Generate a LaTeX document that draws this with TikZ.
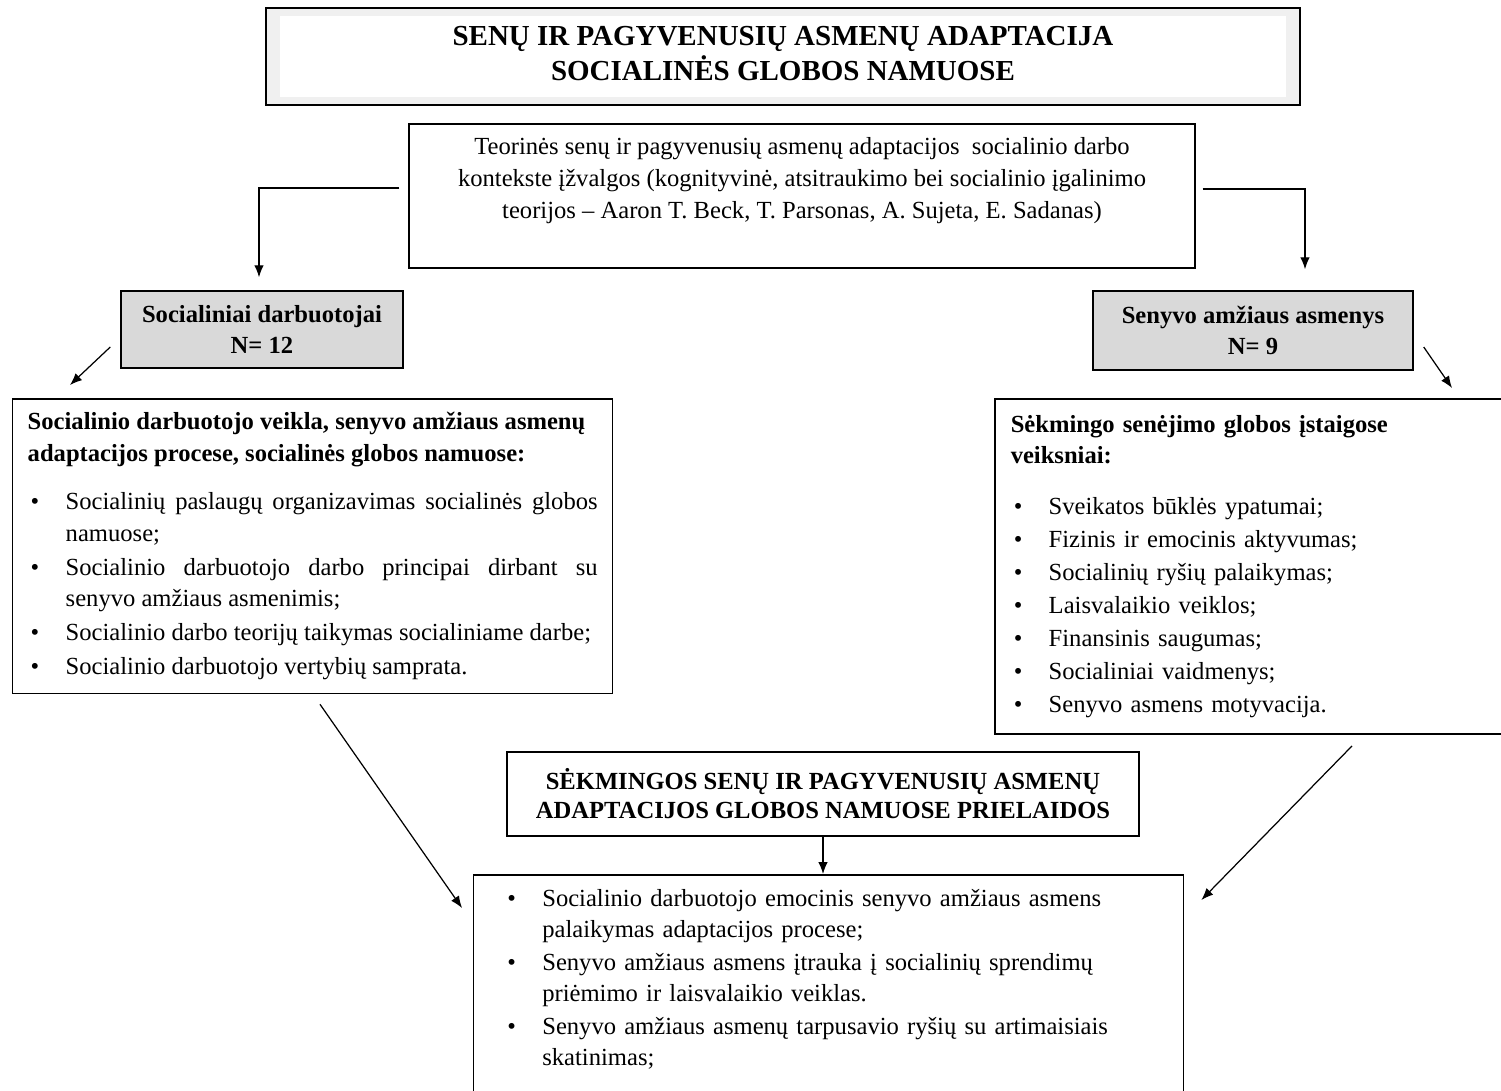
\documentclass[tikz,border=0pt]{standalone}
\usepackage{fontspec}
\setmainfont{Liberation Serif}[BoldFont={Liberation Serif Bold}]
\usetikzlibrary{calc,arrows.meta}
% bullet item with hanging indent
\newcommand{\bulmark}{\noindent\hangindent=0.76cm\hangafter=1\makebox[0.76cm][l]{\hspace{0.06cm}\textbullet}}
\newcommand{\bul}{\par\bulmark}
\tikzset{
  box/.style={draw, line width=0.85pt},
  grey/.style={box, fill=gray!30, align=center, font=\fontsize{14}{17.6}\selectfont\bfseries},
  lst/.style={box, anchor=north west, inner xsep=0.3cm, inner ysep=0.3cm, font=\fontsize{14}{17.9}\selectfont},
  arr/.style={->, >={Latex[length=0.24cm,width=0.19cm]}, line width=0.7pt}
}
\begin{document}
\begin{tikzpicture}[x=0.02cm, y=-0.02cm]
\useasboundingbox (0,0) rectangle (1501,1090);
% title
\node[box, fill=gray!12, minimum width=20.68cm, minimum height=1.94cm] (ttl) at (783,56.5) {};
\node[fill=white, minimum width=20.14cm, minimum height=1.62cm] (ttlin) at (ttl) {};
\node[align=center, font=\fontsize{16.5}{19.9}\selectfont\bfseries] (ttltxt) at (783,53.5) {SENŲ IR PAGYVENUSIŲ ASMENŲ ADAPTACIJA\\SOCIALINĖS GLOBOS NAMUOSE};
% theory
\node[box, minimum width=15.72cm, minimum height=2.88cm] (teor) at (802,196) {};
\node[anchor=north, inner sep=0pt, align=center, font=\fontsize{14}{18.3}\selectfont] (teortxt) at (802,137) {Teorinės senų ir pagyvenusių asmenų adaptacijos \ socialinio darbo\\kontekste įžvalgos (kognityvinė, atsitraukimo bei socialinio įgalinimo\\teorijos – Aaron T. Beck, T. Parsonas, A. Sujeta, E. Sadanas)};
% groups
\node[grey, minimum width=5.64cm, minimum height=1.54cm] (sd) at (262,329.5) {Socialiniai darbuotojai\\N= 12};
\node[grey, minimum width=6.4cm, minimum height=1.58cm] (sa) at (1253,330.5) {Senyvo amžiaus asmenys\\N= 9};
% lists
\node[lst, text width=11.4cm, align=justify, inner ysep=0.27cm] (sdv) at (12,398) {\textbf{Socialinio darbuotojo veikla, senyvo amžiaus asmenų\\adaptacijos procese, socialinės globos namuose:}\setlength{\parskip}{0.05cm}\par\vspace{0.3cm}%
\bul Socialinių paslaugų organizavimas socialinės globos\linebreak namuose;
\bul Socialinio darbuotojo darbo principai dirbant su\linebreak senyvo amžiaus asmenimis;
\bul Socialinio darbo teorijų taikymas socialiniame darbe;
\bul Socialinio darbuotojo vertybių samprata.\par};
\node[lst, text width=9.6cm, inner xsep=0.32cm, inner ysep=0.33cm, align=left] (svk) at (994,398) {\textbf{Sėkmingo senėjimo globos įstaigose\\veiksniai:}\setlength{\parskip}{0.03cm}\par\vspace{0.36cm}%
\bul Sveikatos būklės ypatumai;
\bul Fizinis ir emocinis aktyvumas;
\bul Socialinių ryšių palaikymas;
\bul Laisvalaikio veiklos;
\bul Finansinis saugumas;
\bul Socialiniai vaidmenys;
\bul Senyvo asmens motyvacija.\par};
% result
\node[box, align=center, minimum width=12.64cm, minimum height=1.68cm, font=\fontsize{14}{16.5}\selectfont\bfseries] (prl) at (823,794) {SĖKMINGOS SENŲ IR PAGYVENUSIŲ ASMENŲ\\ADAPTACIJOS GLOBOS NAMUOSE PRIELAIDOS};
\node[box, anchor=north west, minimum width=14.2cm, minimum height=5cm] (prk) at (473,874) {};
\node[anchor=north west, inner sep=0pt, text width=13cm, align=left, font=\fontsize{14}{17.5}\selectfont] (prktxt) at (504,889) {\bulmark Socialinio darbuotojo emocinis senyvo amžiaus asmens\newline palaikymas adaptacijos procese;\setlength{\parskip}{0.05cm}
\bul Senyvo amžiaus asmens įtrauka į socialinių sprendimų\newline priėmimo ir laisvalaikio veiklas.
\bul Senyvo amžiaus asmenų tarpusavio ryšių su artimaisiais\newline skatinimas;\par};
% arrows
\draw[arr] ($(teor.west)+(-9,-8)$) -| ($(sd.north)+(-3,-13)$);
\draw[arr] ($(teor.east)+(7,-7)$) -| ($(sa.north)+(52,-21)$);
\draw[arr] ($(sd.west)+(-10,17.5)$) -- ($(sdv.north west)+(58,-13)$);
\draw[arr] ($(sa.east)+(10,16.5)$) -- ($(svk.north west)+(458,-10)$);
\draw[arr] ($(sdv.south west)+(308,10)$) -- ($(prk.north west)+(-11,34)$);
\draw[arr] ($(svk.south west)+(358,11)$) -- ($(prk.north east)+(17,26)$);
\draw[arr] (prl.south) -- (prl.south |- prk.north);
\end{tikzpicture}
\end{document}
